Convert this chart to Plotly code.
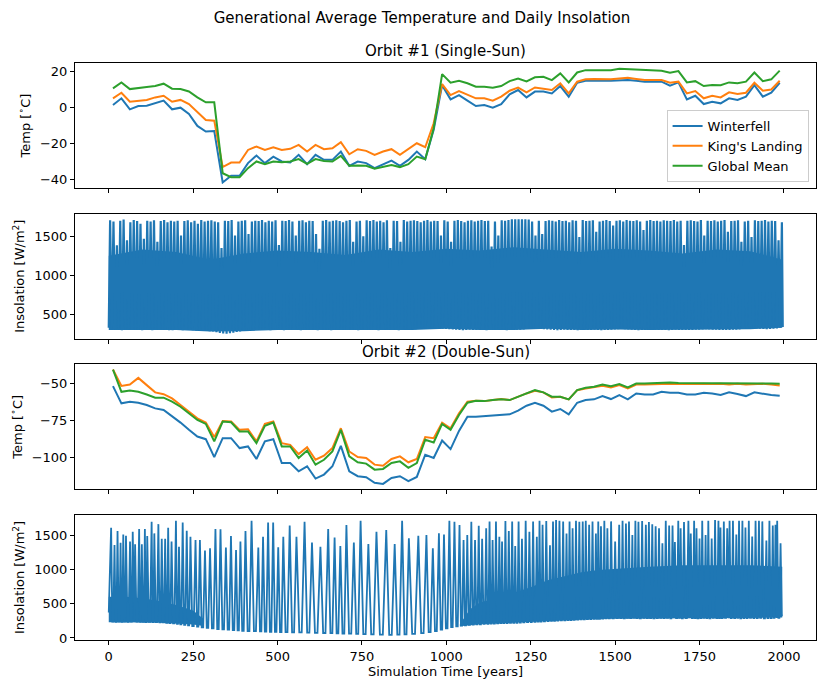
import numpy as np
import plotly.graph_objects as go
from plotly.subplots import make_subplots

BLUE = "#1f77b4"
ORANGE = "#ff7f0e"
GREEN = "#2ca02c"

# one point per 25-year generation
gen_years = np.arange(12.5, 2000, 25)

# ---- Orbit #1 (single sun), generational mean temperature [C]
o1_winterfell = [
    1.3, 5.0, -1.1, 0.7, 0.9, 2.2, 3.7, -1.1, -0.2, -3.7, -10.3, -13.4, -13.1,
    -41.6, -37.9, -37.9, -30.9, -26.7, -30.9, -27.3, -30.0, -30.6, -26.3, -31.5, -26.3, -29.1, -29.1,
    -24.5, -32.4, -30.0, -30.9, -33.7, -31.5, -29.5, -32.4, -29.1, -24.5, -28.7, -12.5, 12.3,
    4.4, 6.8, 3.7, 0.7, 1.3, -0.2, 1.8, 7.2, 9.6, 5.5, 8.7, 8.7, 7.7, 11.8, 5.9, 13.6, 14.7, 14.5, 14.7, 14.7,
    15.1, 15.1, 14.7, 14.2, 14.2, 14.2, 12.0, 13.8, 4.4, 6.4, 1.8, 3.1, 2.2, 5.0, 4.1, 5.9, 12.3, 5.9, 8.1, 13.6,
]
o1_kings_landing = [
    5.0, 8.1, 3.1, 3.7, 4.1, 5.5, 6.4, 3.1, 4.1, 1.8, -2.4, -7.0, -7.4,
    -33.1, -30.6, -30.6, -23.6, -21.7, -23.6, -22.1, -23.6, -23.0, -20.8, -24.5, -20.8, -23.2, -22.7,
    -19.3, -26.0, -23.2, -24.1, -26.3, -24.5, -23.2, -26.3, -23.0, -19.9, -22.1, -8.8, 12.9,
    6.8, 9.0, 6.8, 5.0, 5.0, 3.7, 5.9, 9.2, 10.9, 8.3, 11.0, 10.5, 9.6, 13.3, 7.7, 14.2, 15.5, 15.7, 15.5, 15.5,
    16.0, 16.4, 15.7, 15.1, 15.1, 15.1, 13.6, 14.2, 7.7, 9.0, 5.0, 6.4, 5.5, 8.3, 7.4, 8.1, 13.6, 9.2, 9.9, 14.7,
]
o1_global_mean = [
    10.5, 13.8, 10.1, 10.5, 11.2, 11.8, 13.1, 10.3, 10.1, 8.8, 5.5, 2.8, 2.8,
    -36.5, -38.7, -38.7, -33.7, -30.0, -31.5, -30.0, -30.4, -30.0, -28.7, -31.3, -28.7, -29.7, -30.0,
    -26.9, -32.4, -32.2, -32.4, -34.0, -32.8, -32.0, -33.1, -31.5, -27.3, -28.7, -11.6, 18.4,
    13.6, 14.7, 13.3, 11.4, 11.4, 10.9, 11.8, 14.5, 16.0, 14.4, 16.6, 16.9, 15.1, 18.8, 13.8, 19.3, 20.6, 20.6, 20.6, 20.6,
    21.4, 21.2, 20.6, 20.6, 20.6, 20.3, 19.2, 20.1, 13.8, 14.5, 11.8, 12.3, 12.2, 13.8, 13.3, 14.2, 19.3, 14.5, 15.5, 20.3,
]

# ---- Orbit #2 (double sun), generational mean temperature [C]
o2_winterfell = [
    -51.8, -63.4, -62.3, -63.0, -64.5, -66.8, -67.9, -71.9, -76.4, -81.3,
    -85.8, -87.6, -99.7, -86.9, -86.9, -93.6, -92.5, -101.0, -89.1, -87.6,
    -103.7, -103.7, -109.3, -105.9, -114.2, -111.5, -105.9, -92.1, -109.3, -112.6,
    -113.3, -117.1, -117.8, -113.8, -112.6, -116.0, -113.1, -98.1, -100.3, -88.5,
    -94.3, -82.0, -72.4, -72.4, -71.9, -71.3, -70.8, -70.8, -68.3, -65.0,
    -63.0, -65.0, -69.0, -67.2, -70.8, -63.0, -61.2, -60.7, -58.5, -60.5,
    -57.8, -60.7, -56.7, -57.4, -57.4, -55.6, -56.3, -56.3, -57.4, -57.4,
    -56.3, -56.7, -57.8, -56.0, -57.1, -58.5, -56.0, -57.1, -57.8, -58.3,
]
o2_kings_landing = [
    -40.6, -51.6, -50.7, -46.2, -51.1, -56.0, -57.2, -60.1, -64.5, -69.0,
    -73.5, -76.4, -86.2, -75.3, -75.7, -81.3, -80.9, -89.1, -77.3, -75.7,
    -90.3, -91.4, -97.7, -93.0, -101.5, -98.8, -93.6, -80.2, -95.9, -99.7,
    -100.3, -104.8, -105.5, -101.0, -99.2, -103.2, -101.0, -86.2, -86.9, -76.4,
    -80.2, -70.1, -62.3, -61.6, -61.9, -61.2, -60.5, -61.2, -58.9, -56.7,
    -54.9, -56.0, -59.4, -58.9, -60.7, -54.5, -53.4, -52.7, -51.6, -52.7,
    -51.1, -53.4, -50.7, -50.7, -50.4, -50.0, -50.2, -50.4, -50.2, -50.4,
    -50.2, -50.4, -50.2, -50.7, -50.2, -50.7, -50.4, -50.2, -50.7, -51.3,
]
o2_global_mean = [
    -40.6, -55.6, -54.7, -55.6, -57.4, -59.6, -59.6, -62.3, -65.7, -70.1,
    -74.6, -77.3, -89.1, -75.7, -76.2, -82.4, -82.4, -90.3, -78.6, -76.4,
    -92.5, -92.5, -100.3, -95.2, -104.8, -101.5, -95.9, -81.3, -99.2, -103.2,
    -104.1, -108.2, -107.7, -103.7, -102.6, -107.0, -103.7, -88.0, -89.8, -77.3,
    -81.3, -71.3, -63.0, -61.6, -61.9, -61.2, -60.7, -61.2, -58.9, -56.7,
    -54.5, -56.0, -58.9, -58.9, -60.7, -54.5, -52.9, -52.2, -50.7, -51.8,
    -50.4, -52.7, -50.0, -50.0, -49.6, -49.3, -49.3, -49.6, -49.6, -49.6,
    -49.6, -49.6, -49.8, -49.8, -49.6, -49.8, -49.8, -49.6, -50.0, -50.2,
]

# ---- Orbit #1 daily insolation [W/m2]: one spike every 10 years
ins1_start = 330
ins1_peak_years = np.arange(4, 2000, 10)
ins1_peaks = [
    1705, 1690, 1385, 1700, 1715, 1450, 1680, 1710, 1695, 1660,
    1470, 1700, 1690, 1705, 1430, 1695, 1710, 1680, 1700, 1690,
    1700, 1510, 1695, 1705, 1680, 1700, 1660, 1710, 1690, 1700,
    1705, 1690, 1680, 1350, 1700, 1695, 1710, 1510, 1690, 1700,
    1705, 1530, 1690, 1700, 1695, 1710, 1680, 1700, 1690, 1705,
    1390, 1700, 1695, 1710, 1690, 1510, 1700, 1705, 1680, 1700,
    1695, 1530, 1340, 1700, 1710, 1690, 1700, 1705, 1695, 1680,
    1700, 1710, 1430, 1690, 1700, 1500, 1705, 1695, 1710, 1690,
    1700, 1680, 1705, 1350, 1700, 1695, 1430, 1710, 1690, 1700,
    1705, 1695, 1680, 1700, 1710, 1690, 1700, 1695, 1510, 1705,
    1690, 1430, 1700, 1710, 1695, 1680, 1700, 1705, 1690, 1700,
    1710, 1695, 1700, 1370, 1690, 1510, 1705, 1700, 1710, 1720,
    1720, 1720, 1720, 1720, 1715, 1690, 1510, 1700, 1530, 1695,
    1705, 1700, 1690, 1710, 1695, 1700, 1680, 1705, 1700, 1490,
    1710, 1695, 1700, 1705, 1560, 1690, 1700, 1710, 1695, 1640,
    1700, 1705, 1690, 1710, 1700, 1695, 1705, 1690, 1580, 1700,
    1710, 1695, 1700, 1690, 1705, 1700, 1695, 1710, 1690, 1700,
    1390, 1700, 1705, 1695, 1690, 1710, 1510, 1700, 1695, 1705,
    1690, 1700, 1710, 1560, 1695, 1700, 1705, 1430, 1690, 1700,
    1490, 1705, 1695, 1700, 1710, 1690, 1700, 1695, 1450, 1680,
]
ins1_troughs = [
    305, 300, 302, 298, 300, 303, 299, 301, 300, 297,
    300, 302, 298, 300, 301, 299, 300, 296, 298, 300,
    302, 298, 300, 299, 297, 295, 292, 290, 288, 285,
    280, 270, 262, 255, 252, 258, 265, 275, 282, 288,
    292, 295, 298, 300, 299, 301, 300, 298, 300, 302,
    300, 298, 301, 299, 300, 302, 298, 300, 301, 299,
    300, 297, 299, 301, 300, 298, 300, 302, 299, 300,
    301, 299, 300, 298, 302, 300, 299, 301, 300, 298,
    300, 302, 299, 300, 301, 298, 300, 303, 305, 308,
    310, 312, 315, 318, 320, 322, 320, 318, 315, 312,
    310, 306, 303, 300, 298, 300, 302, 299, 300, 301,
    300, 298, 301, 300, 299, 302, 300, 298, 301, 300,
    302, 305, 308, 312, 316, 320, 318, 315, 310, 306,
    303, 300, 298, 300, 302, 299, 301, 300, 298, 300,
    301, 299, 300, 302, 300, 298, 301, 300, 303, 306,
    310, 312, 310, 306, 302, 300, 298, 300, 301, 299,
    300, 302, 299, 300, 301, 298, 300, 302, 299, 300,
    301, 299, 300, 302, 305, 308, 310, 308, 305, 302,
    300, 301, 299, 300, 302, 305, 308, 312, 315, 318,
    320, 318, 315, 312, 310, 312, 315, 320, 330, 340,
]
# dense part of the signal below the spikes
ins1_band_years = [0, 100, 200, 300, 400, 500, 600, 700, 800, 900, 1000,
                   1100, 1200, 1300, 1400, 1500, 1600, 1700, 1800, 1900, 1995]
ins1_band_top = [1250, 1330, 1300, 1200, 1280, 1320, 1300, 1260, 1330, 1300, 1340,
                 1320, 1360, 1330, 1300, 1340, 1320, 1280, 1330, 1310, 1200]
ins1_band_bottom = [300, 300, 300, 280, 285, 300, 300, 300, 300, 300, 315,
                    300, 300, 315, 300, 305, 300, 300, 305, 310, 330]

# ---- Orbit #2 daily insolation [W/m2]
ins2_start = 370
ins2_peak_years = [
    7, 17, 26, 35, 43, 51, 63, 71, 78, 90,
    98, 107, 114, 127, 135, 147, 157, 167, 176, 186,
    199, 208, 219, 231, 242, 257, 270, 285, 300, 316,
    331, 347, 362, 377, 390, 405, 423, 443, 457, 472,
    487, 502, 517, 536, 556,
    580, 602, 627, 650, 669, 686, 704, 726, 746, 769,
    793, 822, 847, 869, 889, 917, 941, 960, 978, 993,
    1009, 1024, 1039, 1051, 1062, 1074, 1085, 1096, 1106, 1118,
    1128, 1137, 1147, 1157, 1165, 1175, 1185, 1195, 1204, 1214,
    1224, 1235, 1246, 1257, 1268, 1276, 1285, 1296, 1307, 1316,
    1325, 1335, 1346, 1356, 1365, 1374, 1384, 1394, 1404, 1413,
    1423, 1433, 1443, 1450, 1458, 1468, 1477, 1488, 1500, 1512,
    1522, 1532, 1541, 1551, 1560, 1569, 1580, 1591, 1600, 1610,
    1620, 1630, 1640, 1650, 1660, 1670, 1677, 1687, 1694, 1704,
    1717, 1724, 1734, 1741, 1750, 1758, 1768, 1776, 1786, 1796,
    1806, 1812, 1822, 1832, 1839, 1849, 1859, 1867, 1877, 1886,
    1896, 1906, 1916, 1926, 1936, 1948, 1957, 1967, 1975, 1980,
    1990,
]
ins2_peaks = [
    1608, 1356, 1560, 1390, 1510, 1490, 1405, 1550, 1365, 1590,
    1365, 1590, 1485, 1695, 1525, 1660, 1445, 1445, 1608, 1405,
    1710, 1330, 1685, 1565, 1475, 1430, 1430, 1275, 1308, 1590,
    1585, 1318, 1485, 1284, 1405, 1560, 1710, 1318, 1475, 1685,
    1685, 1322, 1475, 1640, 1475,
    1695, 1390, 1330, 1590, 1465, 1340, 1647, 1390, 1710, 1370,
    1550, 1575, 1370, 1710, 1455, 1490, 1500, 1308, 1525, 1510,
    1710, 1695, 1647, 1430, 1500, 1695, 1430, 1637, 1445, 1600,
    1700, 1429, 1700, 1475, 1405, 1705, 1560, 1700, 1340, 1700,
    1445, 1710, 1550, 1700, 1475, 1710, 1650, 1705, 1350, 1700,
    1720, 1710, 1700, 1525, 1700, 1600, 1710, 1695, 1700, 1710,
    1650, 1700, 1525, 1700, 1630, 1710, 1600, 1700, 1405, 1650,
    1710, 1670, 1700, 1500, 1710, 1695, 1705, 1650, 1690, 1660,
    1630, 1600, 1380, 1710, 1640, 1640, 1400, 1710, 1600, 1690,
    1710, 1525, 1710, 1600, 1450, 1710, 1500, 1710, 1450, 1720,
    1710, 1610, 1700, 1600, 1710, 1710, 1510, 1710, 1710, 1610,
    1710, 1480, 1710, 1710, 1700, 1420, 1710, 1640, 1650, 1710,
    1380,
]
ins2_troughs = [
    240, 235, 240, 235, 240, 235, 240, 235, 238, 235,
    235, 232, 235, 230, 230, 228, 226, 222, 218, 212,
    205, 198, 190, 182, 172, 165, 155, 148, 140, 130,
    125, 120, 115, 110, 105, 100, 100, 95, 92, 90,
    88, 85, 85, 82, 80,
    78, 75, 72, 70, 68, 65, 62, 58, 55, 52,
    48, 45, 48, 52, 60, 70, 85, 100, 120, 140,
    160, 170, 180, 185, 190, 195, 200, 200, 205, 205,
    210, 210, 212, 215, 215, 218, 220, 220, 222, 225,
    228, 230, 232, 235, 238, 240, 242, 245, 248, 250,
    252, 255, 258, 260, 262, 265, 268, 270, 272, 275,
    275, 278, 280, 280, 282, 284, 285, 286, 288, 288,
    285, 292, 288, 295, 290, 286, 293, 289, 291, 287,
    290, 294, 288, 292, 286, 291, 289, 293, 287, 290,
    292, 288, 291, 286, 290, 294, 289, 287, 292, 290,
    288, 291, 293, 287, 290, 289, 292, 286, 291, 290,
    293, 288, 290, 292, 287, 291, 289, 294, 290, 292,
    330,
]
# dense parts of the signal (start and late two-sun phase)
ins2_band_early_years = [0, 50, 100, 150, 200, 250, 280]
ins2_band_early_top = [600, 600, 580, 540, 480, 400, 280]
ins2_band_early_bottom = [230, 228, 225, 220, 210, 195, 175]
ins2_band_late_years = [1040, 1070, 1100, 1150, 1200, 1250, 1300, 1350, 1400,
                        1450, 1500, 1600, 1700, 1800, 1900, 1995]
ins2_band_late_top = [200, 420, 520, 580, 660, 740, 840, 900, 960,
                      990, 1010, 1040, 1060, 1060, 1060, 1040]
ins2_band_late_bottom = [170, 185, 200, 210, 220, 235, 245, 255, 265,
                         275, 280, 290, 290, 290, 290, 300]


def spike_line(start, peak_years, peaks, troughs, end_year, flat=False):
    xs, ys = [0], [start]
    nxt = list(peak_years[1:]) + [end_year]
    for yr, n, pk, tr in zip(peak_years, nxt, peaks, troughs):
        gap = n - yr
        if flat:
            xs += [yr, yr + 0.35 * gap, yr + 0.65 * gap]
            ys += [pk, tr, tr]
        else:
            xs += [yr, yr + 0.5 * gap]
            ys += [pk, tr]
    return xs, ys


def band(years, top, bottom):
    return go.Scatter(x=list(years) + list(years)[::-1], y=list(top) + list(bottom)[::-1],
                      fill="toself", fillcolor=BLUE, mode="lines", line=dict(width=0, color=BLUE),
                      showlegend=False, hoverinfo="skip")


fig = make_subplots(rows=4, cols=1, shared_xaxes=True, vertical_spacing=0.0442,
                    subplot_titles=("Orbit #1 (Single-Sun)", "", "Orbit #2 (Double-Sun)", ""))

# Orbit 1 temperatures
for name, vals, col in [("Winterfell", o1_winterfell, BLUE),
                        ("King's Landing", o1_kings_landing, ORANGE),
                        ("Global Mean", o1_global_mean, GREEN)]:
    fig.add_trace(go.Scatter(x=gen_years, y=vals, mode="lines", name=name,
                             line=dict(color=col, width=2)), row=1, col=1)

# Orbit 1 insolation
fig.add_trace(band(ins1_band_years, ins1_band_top, ins1_band_bottom), row=2, col=1)
x1, y1 = spike_line(ins1_start, ins1_peak_years, ins1_peaks, ins1_troughs, 1999)
fig.add_trace(go.Scatter(x=x1, y=y1, mode="lines", line=dict(color=BLUE, width=2.2),
                         showlegend=False), row=2, col=1)

# Orbit 2 temperatures
for name, vals, col in [("Winterfell", o2_winterfell, BLUE),
                        ("King's Landing", o2_kings_landing, ORANGE),
                        ("Global Mean", o2_global_mean, GREEN)]:
    fig.add_trace(go.Scatter(x=gen_years, y=vals, mode="lines", name=name, showlegend=False,
                             line=dict(color=col, width=2)), row=3, col=1)

# Orbit 2 insolation
fig.add_trace(band(ins2_band_early_years, ins2_band_early_top, ins2_band_early_bottom), row=4, col=1)
fig.add_trace(band(ins2_band_late_years, ins2_band_late_top, ins2_band_late_bottom), row=4, col=1)
x2, y2 = spike_line(ins2_start, ins2_peak_years, ins2_peaks, ins2_troughs, 2000, flat=True)
fig.add_trace(go.Scatter(x=x2, y=y2, mode="lines", line=dict(color=BLUE, width=1.8),
                         showlegend=False), row=4, col=1)

axis_style = dict(showgrid=False, zeroline=False, showline=True, linecolor="black", linewidth=1,
                  mirror=True, ticks="outside", ticklen=4, tickcolor="black", automargin=False,
                  tickfont=dict(size=13, color="black"))
fig.update_xaxes(**axis_style, range=[-100, 2095], tick0=0, dtick=250)
fig.update_xaxes(showticklabels=False, row=1, col=1)
fig.update_xaxes(showticklabels=False, row=2, col=1)
fig.update_xaxes(showticklabels=False, row=3, col=1)
fig.update_xaxes(title=dict(text="Simulation Time [years]", font=dict(size=13), standoff=4), row=4, col=1)
fig.update_yaxes(**axis_style)
fig.update_yaxes(range=[-44.75, 24.55], dtick=20, row=1, col=1,
                 title=dict(text="Temp [<sup>∘</sup>C]", font=dict(size=13), standoff=6))
fig.update_yaxes(range=[188, 1791], tickvals=[500, 1000, 1500], row=2, col=1,
                 title=dict(text="Insolation [W/m<sup>2</sup>]", font=dict(size=13), standoff=6))
fig.update_yaxes(range=[-121.5, -37], tickvals=[-100, -75, -50], row=3, col=1,
                 title=dict(text="Temp [<sup>∘</sup>C]", font=dict(size=13), standoff=6))
fig.update_yaxes(range=[-30, 1795], tickvals=[0, 500, 1000, 1500], row=4, col=1,
                 title=dict(text="Insolation [W/m<sup>2</sup>]", font=dict(size=13), standoff=6))

fig.update_annotations(font=dict(size=15, color="black"), yshift=1)

# page body adds an 8px offset, so the figure is drawn 8px smaller
fig.update_layout(
    width=823, height=683,
    template="simple_white",
    plot_bgcolor="white", paper_bgcolor="white",
    font=dict(family="DejaVu Sans", color="black", size=13),
    margin=dict(l=67, r=15, t=55, b=51),
    title=dict(text="Generational Average Temperature and Daily Insolation",
               x=0.503, xanchor="center", y=0.993, yanchor="top", pad=dict(t=0, b=0),
               font=dict(size=15, color="black")),
    legend=dict(x=0.99, xanchor="right", y=0.7938, yanchor="bottom",
                bordercolor="#cccccc", borderwidth=1, bgcolor="rgba(255,255,255,0.8)",
                font=dict(size=13)),
)

fig.write_html("out.html")
